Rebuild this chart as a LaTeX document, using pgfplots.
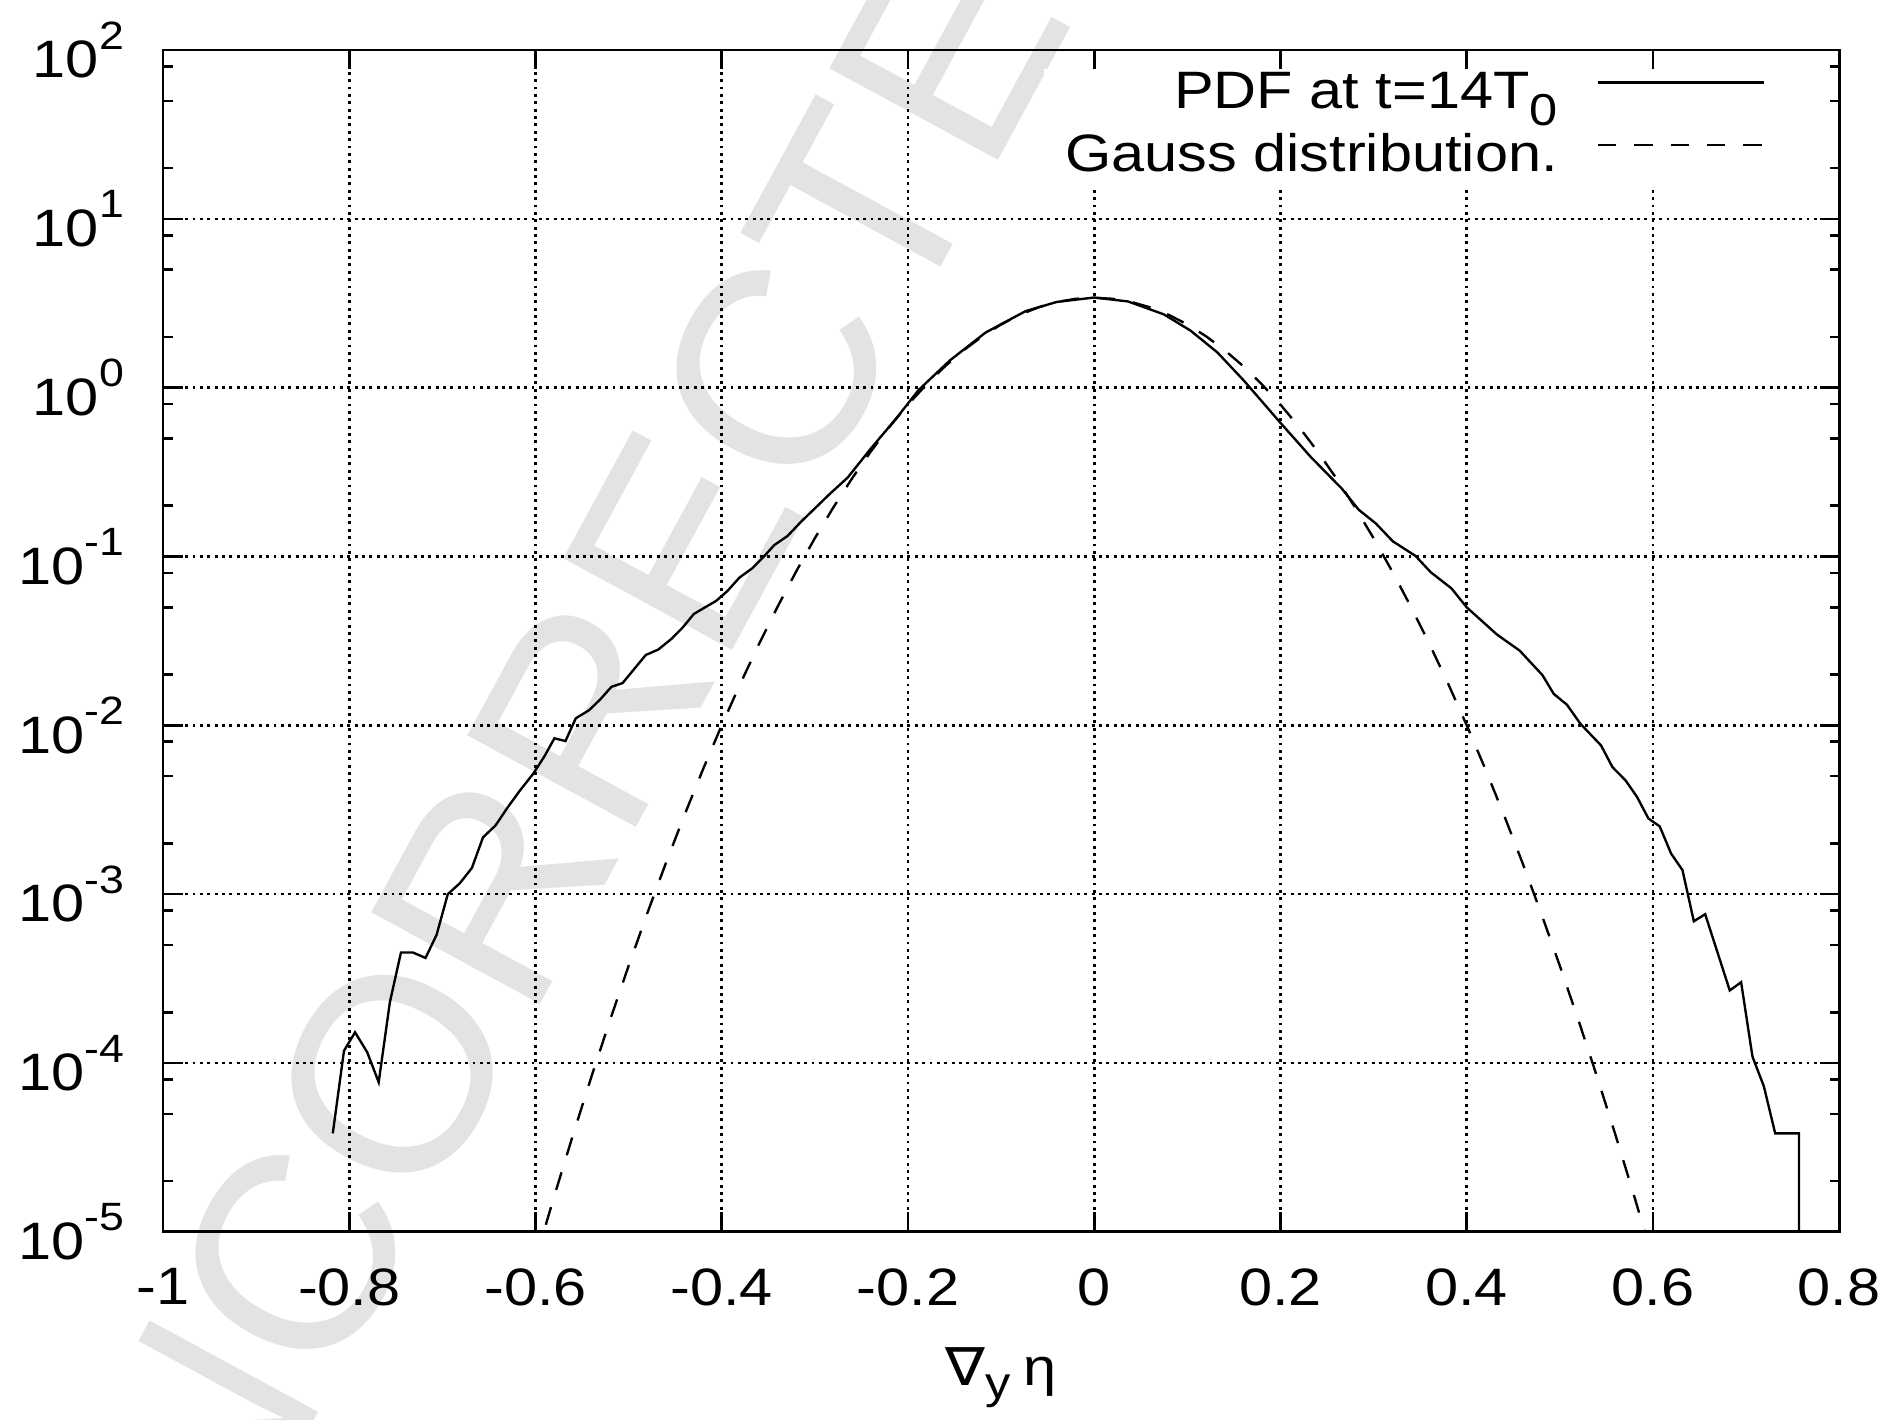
\documentclass[border=0pt]{standalone}
\usepackage{fontspec}
\setmainfont{Liberation Sans}[FakeStretch=1.13]
\newfontfamily\wmfont{Liberation Sans}
\newfontfamily\dejavu{DejaVu Sans}[FakeStretch=1.13]
\usepackage{pgfplots}
\pgfplotsset{compat=1.18}
\newcommand{\tp}[1]{10\raisebox{5.4pt}{\fontsize{7.5}{7.5}\selectfont #1}}
\definecolor{wm}{RGB}{227,227,227}
\begin{document}
\begin{tikzpicture}
\node[rotate=61.5, anchor=base west, inner sep=0pt, text=wm, font=\wmfont\fontsize{53}{53}\selectfont] at (-5pt,-98pt) {UNCORRECTED PROOF};
\begin{axis}[
  at={(0,0)}, anchor=south west,
  scale only axis, width=318.4pt, height=224.5pt,
  xmin=-1, xmax=0.8, ymin=1e-5, ymax=1e2,
  ymode=log,
  xtick={-1,-0.8,-0.6,-0.4,-0.2,0,0.2,0.4,0.6,0.8},
  xticklabels={-1,-0.8,-0.6,-0.4,-0.2,0,0.2,0.4,0.6,0.8},
  ytick={1e-5,1e-4,1e-3,1e-2,1e-1,1,10,100},
  yticklabels={\tp{-5},\tp{-4},\tp{-3},\tp{-2},\tp{-1},\tp{0},\tp{1},\tp{2}},
  minor ytick={2e-5,5e-5,8e-5,2e-4,5e-4,8e-4,2e-3,5e-3,8e-3,2e-2,5e-2,8e-2,2e-1,5e-1,8e-1,2,5,8,20,50,80},
  grid=major,
  major grid style={black, line width=0.5pt, dash pattern=on 0.55pt off 0.85pt},
  tick align=inside,
  major tick length=3.7pt, minor tick length=1.8pt,
  every tick/.style={black, line width=0.5pt},
  axis line style={line width=0.55pt},
  tick label style={font=\fontsize{10}{12}\selectfont},
  xticklabel style={yshift=-3.4pt},
  yticklabel style={xshift=-3.9pt},
  xlabel={{\dejavu ∇}\raisebox{-2.5pt}{\fontsize{8.5}{8.5}\selectfont y}\hspace{2.5pt}η},
  xlabel style={at={(axis description cs:0.5,0)}, anchor=north, yshift=-18.5pt, font=\fontsize{10}{12}\selectfont},
  legend plot pos=right,
  legend cell align=right,
  legend image code/.code={\draw[#1] (0pt,3pt) -- (31.5pt,3pt);},
  legend style={draw=none, fill=white, at={(axis description cs:1,1)}, anchor=north east,
    xshift=-9.9pt, yshift=-3.5pt, inner xsep=4pt, inner ysep=0pt,
    row sep=0.8pt, column sep=7.4pt,
    nodes={inner sep=0pt, text height=7.5pt, text depth=3.5pt},
    font=\fontsize{10}{12}\selectfont},
]
\addplot[black, line width=0.45pt] coordinates {
(-0.8177,3.83e-5) (-0.8057,1.18e-4) (-0.7938,1.52e-4) (-0.7808,1.16e-4) (-0.7684,7.7e-5)
(-0.7564,2.29e-4) (-0.7445,4.51e-4) (-0.7315,4.51e-4) (-0.7181,4.19e-4) (-0.7062,5.75e-4)
(-0.6942,1.0e-3) (-0.6813,1.16e-3) (-0.6683,1.43e-3) (-0.6564,2.17e-3) (-0.6430,2.55e-3)
(-0.6300,3.26e-3) (-0.6166,4.12e-3) (-0.6022,5.19e-3) (-0.5903,6.57e-3) (-0.5797,8.38e-3)
(-0.5678,8.07e-3) (-0.5568,1.10e-2) (-0.5424,1.23e-2) (-0.5304,1.426e-2) (-0.5185,1.69e-2)
(-0.5065,1.78e-2) (-0.4945,2.14e-2) (-0.4816,2.61e-2) (-0.4682,2.81e-2) (-0.4538,3.26e-2)
(-0.4419,3.80e-2) (-0.4299,4.57e-2) (-0.4179,5.00e-2) (-0.4060,5.46e-2) (-0.3940,6.24e-2)
(-0.3810,7.50e-2) (-0.3676,8.49e-2) (-0.3557,9.86e-2) (-0.3437,0.1167) (-0.3293,0.1324)
(-0.3150,0.1603) (-0.3006,0.1914) (-0.2838,0.2353) (-0.2647,0.2937) (-0.2400,0.435)
(-0.2124,0.66) (-0.1885,0.97) (-0.155,1.45) (-0.1167,2.12) (-0.0737,2.84) (-0.0402,3.22)
(0,3.42) (0.0364,3.24) (0.0746,2.72) (0.1033,2.18) (0.1321,1.62) (0.1608,1.10)
(0.199,0.628) (0.2325,0.389) (0.266,0.252) (0.2841,0.189) (0.3024,0.157) (0.3207,0.123)
(0.3451,0.1007) (0.3614,0.0807) (0.3837,0.0647) (0.4,0.050) (0.4325,0.0345) (0.4569,0.0277)
(0.4813,0.01985) (0.4935,0.01535) (0.5077,0.01324) (0.5220,0.01023) (0.5443,0.0076)
(0.5565,0.00566) (0.5707,0.00471) (0.5829,0.00377) (0.5951,0.00281) (0.6073,0.00252)
(0.6195,0.00174) (0.6317,0.00139) (0.6439,6.91e-4) (0.6561,7.61e-4) (0.6825,2.69e-4)
(0.6947,3.01e-4) (0.7069,1.09e-4) (0.7191,7.28e-5) (0.7313,3.83e-5) (0.7569,3.83e-5)
(0.7569,1e-6)
};
\addlegendentry{PDF at t=14T\raisebox{-3.2pt}{\fontsize{8.5}{8.5}\selectfont 0}}
\addplot[black, line width=0.45pt, dash pattern=on 3.5pt off 3.4pt] coordinates {
(-0.60,6.85e-6) (-0.58,1.619e-5) (-0.56,3.713e-5) (-0.54,8.28e-5) (-0.52,1.793e-4)
(-0.50,3.767e-4) (-0.48,7.70e-4) (-0.46,1.528e-3) (-0.44,2.945e-3) (-0.42,5.510e-3)
(-0.40,1.0016e-2) (-0.38,1.768e-2) (-0.36,3.031e-2) (-0.34,5.049e-2) (-0.32,8.168e-2)
(-0.30,0.1284) (-0.28,0.1959) (-0.26,0.2904) (-0.24,0.4181) (-0.22,0.5846)
(-0.20,0.7939) (-0.18,1.0471) (-0.16,1.3416) (-0.14,1.6694) (-0.12,2.0177)
(-0.10,2.3685) (-0.08,2.7008) (-0.06,2.9907) (-0.04,3.2169) (-0.02,3.3607)
(0,3.41)
(0.02,3.3607) (0.04,3.2169) (0.06,2.9907) (0.08,2.7008) (0.10,2.3685)
(0.12,2.0177) (0.14,1.6694) (0.16,1.3416) (0.18,1.0471) (0.20,0.7939)
(0.22,0.5846) (0.24,0.4181) (0.26,0.2904) (0.28,0.1959) (0.30,0.1284)
(0.32,8.168e-2) (0.34,5.049e-2) (0.36,3.031e-2) (0.38,1.768e-2) (0.40,1.0016e-2)
(0.42,5.510e-3) (0.44,2.945e-3) (0.46,1.528e-3) (0.48,7.70e-4) (0.50,3.767e-4)
(0.52,1.793e-4) (0.54,8.28e-5) (0.56,3.713e-5) (0.58,1.619e-5) (0.60,6.85e-6)
};
\addlegendentry{Gauss distribution.}
\end{axis}
\pgfresetboundingbox
\path[use as bounding box] (-30.97pt,-35.7pt) rectangle (329.0pt,234.0pt);
\end{tikzpicture}
\end{document}
